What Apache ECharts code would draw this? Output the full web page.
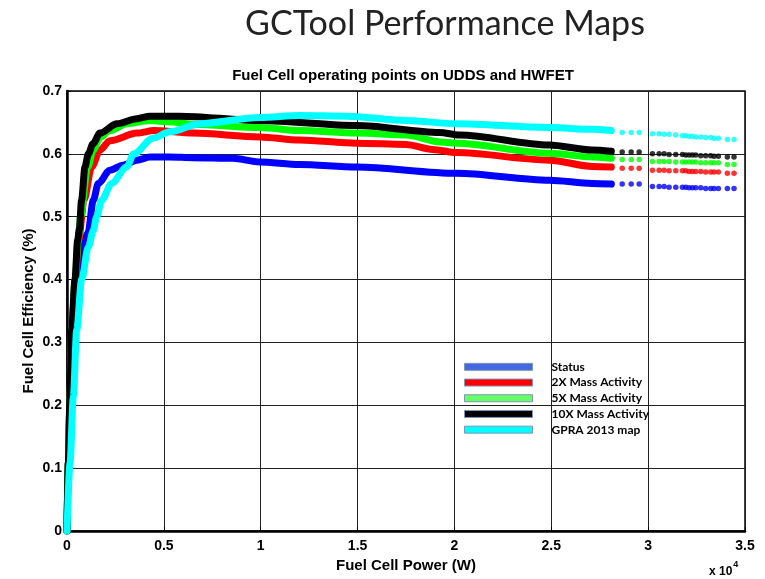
<!DOCTYPE html>
<html>
<head>
<meta charset="utf-8">
<script src="https://cdn.jsdelivr.net/npm/echarts@6/dist/echarts.min.js"></script>
<style>
html,body{margin:0;padding:0;background:#fff;}
#chart{width:765px;height:579px;}
</style>
</head>
<body>
<div id="chart"></div>
<script>
// ---- Data (Power in W, efficiency as fraction) ----
const seriesNames = ['Status', '2X Mass Activity', '5X Mass Activity', '10X Mass Activity', 'GPRA 2013 map'];

const statusPower = [0, 69, 160, 290, 520, 800, 1082, 1357, 1615, 2216, 2887, 3608, 4278, 5300, 6500, 8560, 9950, 12000, 14950, 20100, 24900, 27100, 28100];
const statusEff   = [0, 0.108, 0.213, 0.32, 0.40, 0.45, 0.474, 0.526, 0.553, 0.574, 0.582, 0.59, 0.595, 0.595, 0.594, 0.593, 0.587, 0.583, 0.579, 0.569, 0.558, 0.553, 0.552];

const twoXPower = [0, 69, 155, 250, 430, 600, 876, 1271, 1700, 2216, 3608, 4500, 6500, 9950, 12000, 14950, 17500, 18870, 20100, 24900, 27100, 28100];
const twoXEff   = [0, 0.108, 0.213, 0.32, 0.40, 0.463, 0.526, 0.579, 0.606, 0.621, 0.633, 0.637, 0.633, 0.627, 0.622, 0.617, 0.615, 0.607, 0.602, 0.59, 0.58, 0.579];

const fiveXPower = [0, 69, 155, 245, 420, 575, 700, 1065, 1357, 1700, 2216, 3076, 4278, 5300, 6500, 9950, 12000, 14950, 17500, 19230, 20100, 24900, 27100, 28100];
const fiveXEff   = [0, 0.108, 0.213, 0.32, 0.40, 0.463, 0.50, 0.579, 0.606, 0.626, 0.637, 0.648, 0.653, 0.651, 0.647, 0.642, 0.637, 0.633, 0.63, 0.619, 0.617, 0.601, 0.595, 0.593];

const tenXPower = [0, 69, 155, 240, 412, 550, 640, 750, 928, 1100, 1340, 1700, 2577, 3608, 4278, 5800, 9950, 14950, 19230, 20260, 24900, 27100, 28100];
const tenXEff   = [0, 0.108, 0.213, 0.32, 0.40, 0.463, 0.48, 0.526, 0.579, 0.60, 0.616, 0.633, 0.648, 0.656, 0.66, 0.66, 0.653, 0.645, 0.634, 0.63, 0.614, 0.606, 0.604];

const gpraPower = [0, 155, 325, 500, 756, 1100, 1357, 1529, 1787, 2302, 3076, 3450, 4433, 5309, 6856, 9948, 12010, 14433, 17526, 20103, 24897, 27113, 28093];
const gpraEff   = [0, 0.108, 0.213, 0.32, 0.40, 0.452, 0.478, 0.50, 0.526, 0.553, 0.579, 0.60, 0.625, 0.635, 0.648, 0.658, 0.661, 0.66, 0.653, 0.648, 0.642, 0.639, 0.637];

// sparse operating points at high power
const dotPower = [28660, 29124, 29536, 30222, 30567, 30825, 31082, 31426, 31770, 31942, 32113, 32285, 32457, 32715, 32972, 33230, 33402, 33625, 34089, 34433];
const statusDots = [0.552, 0.552, 0.552, 0.548, 0.548, 0.548, 0.547, 0.547, 0.547, 0.547, 0.546, 0.546, 0.546, 0.546, 0.545, 0.545, 0.545, 0.545, 0.545, 0.545];
const twoXDots   = [0.577, 0.577, 0.577, 0.574, 0.574, 0.574, 0.573, 0.573, 0.573, 0.573, 0.572, 0.572, 0.572, 0.572, 0.571, 0.571, 0.571, 0.571, 0.569, 0.569];
const fiveXDots  = [0.591, 0.591, 0.591, 0.588, 0.588, 0.588, 0.588, 0.587, 0.587, 0.587, 0.587, 0.587, 0.587, 0.586, 0.586, 0.586, 0.586, 0.586, 0.583, 0.583];
const tenXDots   = [0.603, 0.603, 0.603, 0.600, 0.600, 0.600, 0.599, 0.599, 0.599, 0.598, 0.598, 0.598, 0.598, 0.597, 0.597, 0.597, 0.596, 0.596, 0.595, 0.595];
const gpraDots   = [0.634, 0.634, 0.634, 0.632, 0.632, 0.631, 0.631, 0.630, 0.629, 0.629, 0.628, 0.628, 0.627, 0.627, 0.626, 0.626, 0.625, 0.625, 0.623, 0.623];

const xTickLabels = ['0', '0.5', '1', '1.5', '2', '2.5', '3', '3.5'];
const yTickLabels = ['0', '0.1', '0.2', '0.3', '0.4', '0.5', '0.6', '0.7'];

// ---- Styling ----
const lineColors = ['#0000ff', '#ff0000', '#00ff00', '#000000', '#00ffff'];
const legendColors = ['#4169e1', '#ff0000', '#66ff66', '#000000', '#00ffff'];

const curvePower = [statusPower, twoXPower, fiveXPower, tenXPower, gpraPower];
const curveEff = [statusEff, twoXEff, fiveXEff, tenXEff, gpraEff];
const curveDots = [statusDots, twoXDots, fiveXDots, tenXDots, gpraDots];

const zip = (xs, ys) => xs.map((x, i) => [x, ys[i]]);

const series = [];
seriesNames.forEach((name, i) => {
  series.push({
    name: name, type: 'line', data: zip(curvePower[i], curveEff[i]),
    showSymbol: false, smooth: 0.3, smoothMonotone: 'x',
    lineStyle: { color: lineColors[i], width: 7, cap: 'round', join: 'round' },
    itemStyle: { color: lineColors[i] },
    z: 2 + i
  });
  series.push({
    name: name, type: 'scatter', data: zip(dotPower, curveDots[i]),
    symbolSize: 5.5, itemStyle: { color: lineColors[i] }, z: 2 + i
  });
});

const chart = echarts.init(document.getElementById('chart'), null, { renderer: 'canvas' });
chart.setOption({
  animation: false,
  backgroundColor: '#fff',
  title: [
    { text: 'GCTool Performance Maps', left: 440, top: 2, textAlign: 'center',
      textStyle: { fontFamily: 'Lato', fontWeight: 'normal', fontSize: 34, color: '#222' } },
    { text: 'Fuel Cell operating points on UDDS and HWFET', left: 398, top: 63, textAlign: 'center',
      textStyle: { fontFamily: 'Liberation Sans', fontWeight: 'bold', fontSize: 15, color: '#000' } }
  ],
  grid: { left: 67, right: 20, top: 91, bottom: 48, show: true, borderColor: '#000', borderWidth: 1.5 },
  legend: {
    orient: 'vertical', left: 459, top: 354, icon: 'rect',
    itemWidth: 68, itemHeight: 7, itemGap: 0,
    selectedMode: false,
    textStyle: { fontFamily: 'Lato', fontWeight: 'bold', fontSize: 12, color: '#000', padding: [0, 0, 0, 14], lineHeight: 15.7 },
    data: seriesNames.map((n, i) => ({ name: n, itemStyle: { color: legendColors[i], borderColor: '#7f95b5', borderWidth: 1 } }))
  },
  xAxis: {
    type: 'value', min: 0, max: 35000, interval: 5000,
    name: 'Fuel Cell Power (W)', nameLocation: 'middle', nameGap: 23,
    nameTextStyle: { fontFamily: 'Liberation Sans', fontWeight: 'bold', fontSize: 15, color: '#000' },
    axisLine: { lineStyle: { color: '#000', width: 2.5 } },
    axisTick: { inside: true, length: 4, lineStyle: { color: '#000' } },
    axisLabel: { margin: 8, color: '#000', fontFamily: 'Liberation Sans', fontWeight: 'bold', fontSize: 14,
      formatter: (v) => xTickLabels[Math.round(v / 5000)] },
    splitLine: { show: true, lineStyle: { color: '#222', width: 1 } }
  },
  yAxis: {
    type: 'value', min: 0, max: 0.7, interval: 0.1,
    name: 'Fuel Cell Efficiency (%)', nameLocation: 'middle', nameGap: 31, nameMoveOverlap: false,
    nameTextStyle: { fontFamily: 'Liberation Sans', fontWeight: 'bold', fontSize: 15, color: '#000' },
    axisLine: { lineStyle: { color: '#000', width: 2.5 } },
    axisTick: { inside: true, length: 4, lineStyle: { color: '#000' } },
    axisLabel: { margin: 5, color: '#000', fontFamily: 'Liberation Sans', fontWeight: 'bold', fontSize: 14,
      formatter: (v) => yTickLabels[Math.round(v * 10)] },
    splitLine: { show: true, lineStyle: { color: '#222', width: 1 } }
  },
  graphic: [
    { type: 'text', left: 709, top: 560,
      style: { text: '{b|x 10}{s|4}', rich: {
        b: { fontFamily: 'Liberation Sans', fontWeight: 'bold', fontSize: 12, fill: '#000', verticalAlign: 'bottom', lineHeight: 18 },
        s: { fontFamily: 'Liberation Sans', fontWeight: 'bold', fontSize: 9, fill: '#000', verticalAlign: 'top', padding: [0, 0, 8, 1] }
      } } }
  ],
  series: series
});
</script>
</body>
</html>
